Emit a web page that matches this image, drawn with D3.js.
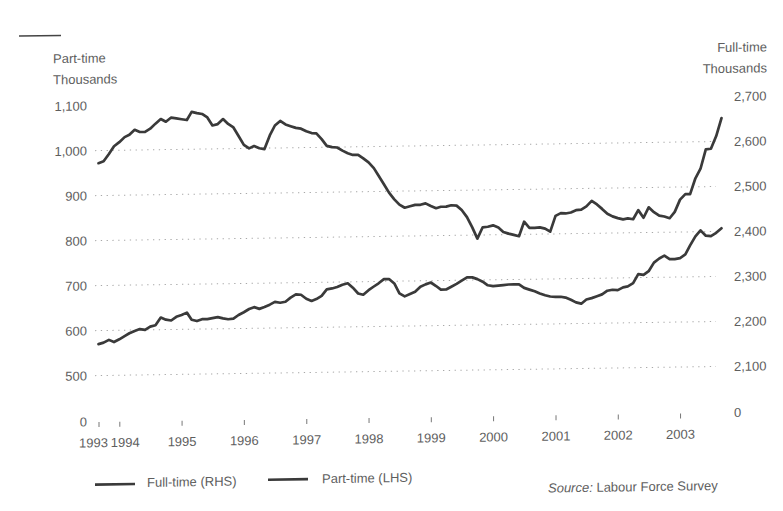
<!DOCTYPE html>
<html><head><meta charset="utf-8">
<script src="https://cdn.jsdelivr.net/npm/d3@7"></script>
<style>
body{margin:0;background:#fff}
svg{display:block}
text{font-family:"Liberation Sans",Arial,Helvetica,sans-serif;}
</style>
</head><body>
<svg id="chart" width="783" height="511"></svg>
<script>
// ---- DATA (monthly, Sep 1993 – Sep 2003, thousands) ----
const fullTime = [
2572,2576,2592,2609,2618,2629,2634,2645,2640,2640,2647,2658,2668,2662,2671,2669,2667,2665,2683,2680,
2678,2670,2652,2655,2666,2655,2647,2628,2608,2600,2605,2600,2598,2628,2650,2660,2652,2648,2644,2642,
2636,2632,2631,2618,2603,2600,2599,2592,2586,2582,2582,2574,2565,2552,2535,2516,2497,2482,2470,2463,
2466,2469,2469,2472,2466,2461,2464,2464,2467,2466,2456,2440,2417,2392,2417,2418,2421,2416,2406,2402,
2399,2396,2428,2414,2414,2415,2412,2405,2440,2446,2445,2447,2452,2453,2460,2472,2464,2454,2443,2437,
2433,2430,2432,2430,2450,2433,2456,2445,2437,2435,2431,2445,2472,2484,2484,2519,2540,2583,2584,2612,
2652];
const partTime = [
570,573,579,574,580,587,593,598,602,600,607,610,627,622,620,628,632,637,621,618,
622,622,624,626,623,621,622,630,636,643,647,643,647,652,658,656,658,667,674,673,
664,659,663,670,684,686,689,694,697,687,674,671,681,689,696,705,705,695,673,666,
671,676,687,692,696,688,680,680,686,692,699,706,706,702,696,688,686,687,688,689,
689,689,681,677,673,668,664,661,660,660,658,653,647,644,653,656,660,664,672,674,
673,679,681,688,708,706,714,733,742,748,740,740,742,750,770,790,803,791,790,797,
807];
const firstMonth = [1993, 8];   // September 1993
const lastMonth = [2003, 8];    // September 2003
const yearLabels = ["1993","1994","1995","1996","1997","1998","1999","2000","2001","2002","2003"];
const yearTickMonths = [[1993,8],[1994,0],[1995,0],[1996,0],[1997,0],[1998,0],[1999,0],[2000,0],[2001,0],[2002,0],[2003,0]];
const leftTicks = [0,500,600,700,800,900,1000,1100];
const rightTicks = [0,2100,2200,2300,2400,2500,2600,2700];
const gridValues = [500,600,700,800,900,1000];
const leftTitle = ["Part-time","Thousands"];
const rightTitle = ["Full-time","Thousands"];
const legendItems = ["Full-time (RHS)","Part-time (LHS)"];
const sourceLabel = "Source:";
const sourceText = "Labour Force Survey";

// ---- DRAWING ----
const svg = d3.select("#chart");
svg.append("rect").attr("width",783).attr("height",511).attr("fill","#fff");
// the printed page was scanned slightly askew
const g = svg.append("g").attr("transform","translate(0,1.03) skewY(-0.842)");

const months = fullTime.map((_, i) => new Date(firstMonth[0], firstMonth[1] + i, 1));
const x = d3.scaleTime()
  .domain([new Date(firstMonth[0], firstMonth[1], 1), new Date(lastMonth[0], lastMonth[1], 1)])
  .range([98.5, 721.5]);
// broken axes: zero shown below the 500 / 2,100 line
const yL = d3.scaleLinear().domain([0, 500, 1100]).range([422, 376, 106]);
const yR = d3.scaleLinear().domain([0, 2100, 2700]).range([422, 376, 106]);

const textCol = "#5e5e5e";
const lineCol = "#3a3a3a";

// gridlines
g.append("g").selectAll("line").data(gridValues).join("line")
  .attr("x1",95).attr("x2",716)
  .attr("y1",d=>yL(d)).attr("y2",d=>yL(d))
  .attr("stroke","#a8a8a8").attr("stroke-width",1)
  .attr("stroke-dasharray","1.3,4.5");

// left axis
const axL = g.append("g").attr("transform","translate(90,0)")
  .call(d3.axisLeft(yL).tickValues(leftTicks).tickSize(0).tickPadding(3)
    .tickFormat(d3.format(",")));
axL.select(".domain").remove();
axL.selectAll("text").attr("fill",textCol).style("font-size","13px");

// right axis
const axR = g.append("g").attr("transform","translate(731,0)")
  .call(d3.axisRight(yR).tickValues(rightTicks).tickSize(0).tickPadding(3)
    .tickFormat(d3.format(",")));
axR.select(".domain").remove();
axR.selectAll("text").attr("fill",textCol).style("font-size","13px");

// x axis
const tickDates = yearTickMonths.map(m => new Date(m[0], m[1], 1));
const axX = g.append("g").attr("transform","translate(0,422.5)")
  .call(d3.axisBottom(x).tickValues(tickDates).tickSize(5).tickPadding(11)
    .tickFormat((d,i) => yearLabels[i]));
axX.select(".domain").remove();
axX.selectAll(".tick line").attr("stroke","#777").attr("stroke-width",1);
axX.selectAll("text").attr("fill",textCol).style("font-size","13px")
  .attr("dx",(d,i) => i===0 ? -5.5 : (i===1 ? 5.5 : 0));

// titles
const tl = g.append("text").attr("x",53).attr("fill",textCol).style("font-size","13px");
tl.selectAll("tspan").data(leftTitle).join("tspan")
  .attr("x",53).attr("y",(d,i)=>[58.4,79.5][i]).attr("dy","0.35em").text(d=>d);
const tr = g.append("text").attr("text-anchor","end").attr("fill",textCol).style("font-size","13px");
tr.selectAll("tspan").data(rightTitle).join("tspan")
  .attr("x",767).attr("y",(d,i)=>[57,78][i]).attr("dy","0.35em").text(d=>d);
g.append("line").attr("x1",19).attr("x2",61).attr("y1",35.3).attr("y2",35.3)
  .attr("stroke","#444").attr("stroke-width",1.4);

// series lines
const lineR = d3.line().x((d,i)=>x(months[i])).y(d=>yR(d)).curve(d3.curveLinear);
const lineL = d3.line().x((d,i)=>x(months[i])).y(d=>yL(d)).curve(d3.curveLinear);
g.append("path").datum(fullTime).attr("d",lineR)
  .attr("fill","none").attr("stroke",lineCol).attr("stroke-width",2.7)
  .attr("stroke-linejoin","round").attr("stroke-linecap","round");
g.append("path").datum(partTime).attr("d",lineL)
  .attr("fill","none").attr("stroke",lineCol).attr("stroke-width",2.7)
  .attr("stroke-linejoin","round").attr("stroke-linecap","round");

// legend
const legX = [{l:95, t:147, ly:485, ty:483.5},{l:268, t:322, ly:482.6, ty:482.4}];
const leg = g.append("g").selectAll("g").data(legendItems).join("g");
leg.append("line").attr("x1",(d,i)=>legX[i].l).attr("x2",(d,i)=>legX[i].l+40)
  .attr("y1",(d,i)=>legX[i].ly).attr("y2",(d,i)=>legX[i].ly)
  .attr("stroke",lineCol).attr("stroke-width",2.6);
leg.append("text").attr("x",(d,i)=>legX[i].t).attr("y",(d,i)=>legX[i].ty).attr("dy","0.35em")
  .attr("fill",textCol).style("font-size","13px").text(d=>d);

// source
const src = g.append("text").attr("x",548).attr("y",495).attr("dy","0.35em")
  .attr("fill",textCol).style("font-size","13px");
src.append("tspan").style("font-style","italic").text(sourceLabel);
src.append("tspan").text(" " + sourceText);
</script>
</body></html>
